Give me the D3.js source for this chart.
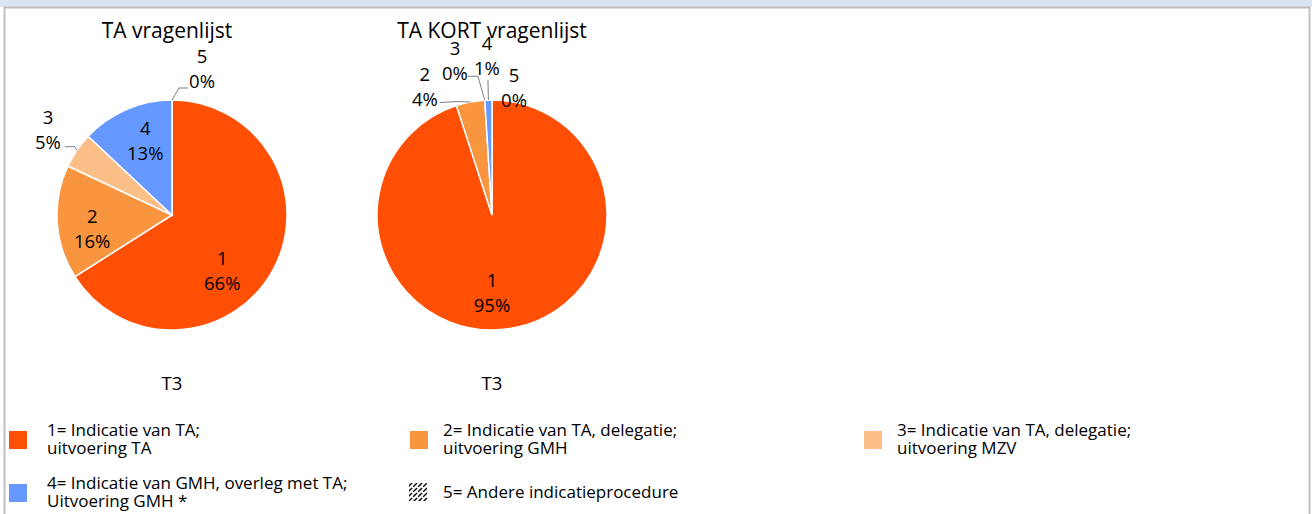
<!DOCTYPE html>
<html>
<head>
<meta charset="utf-8">
<script src="https://cdn.jsdelivr.net/npm/d3@7/dist/d3.min.js"></script>
<style>
  html, body { margin: 0; padding: 0; background: #ffffff; }
  svg { display: block; }
  text { font-family: "Open Sans", "Liberation Sans", sans-serif; fill: #000; }
</style>
</head>
<body>
<svg id="chart" width="1312" height="514"></svg>
<script>
// Categories (indication procedure codes) and the share per questionnaire
const categories = ["1", "2", "3", "4", "5"];
const taValues = [66, 16, 5, 13, 0];        // TA vragenlijst
const taKortValues = [95, 4, 0, 1, 0];      // TA KORT vragenlijst
const pieTitles = ["TA vragenlijst", "TA KORT vragenlijst"];
const pieCaptions = ["T3", "T3"];
const legendLabels = [
  ["1= Indicatie van TA;", "uitvoering TA"],
  ["2= Indicatie van TA, delegatie;", "uitvoering GMH"],
  ["3= Indicatie van TA, delegatie;", "uitvoering MZV"],
  ["4= Indicatie van GMH, overleg met TA;", "Uitvoering GMH *"],
  ["5= Andere indicatieprocedure"]
];

const colors = ["#ff4f04", "#f9953f", "#fdbf88", "#6699ff", "url(#hatch)"];

const svg = d3.select("#chart");

// Hatch used for "andere indicatieprocedure"
const defs = svg.append("defs");
const pat = defs.append("pattern")
  .attr("id", "hatch").attr("patternUnits", "userSpaceOnUse")
  .attr("width", 5).attr("height", 5);
pat.append("rect").attr("width", 5).attr("height", 5).attr("fill", "#fff");
pat.append("path").attr("d", "M-1,1 L1,-1 M0,5 L5,0 M4,6 L6,4")
  .attr("stroke", "#000").attr("stroke-width", 1.4)
  .attr("stroke-dasharray", "3,1.5");

// Frame: header band and side borders
svg.append("rect").attr("x", 0).attr("y", 0).attr("width", 1312).attr("height", 7)
  .attr("fill", "#dbe5f1");
svg.append("line").attr("x1", 4).attr("x2", 1310).attr("y1", 7.5).attr("y2", 7.5)
  .attr("stroke", "#bfbfbf").attr("stroke-width", 2);
svg.append("line").attr("x1", 4.5).attr("x2", 4.5).attr("y1", 7).attr("y2", 514)
  .attr("stroke", "#bfbfbf").attr("stroke-width", 2);
svg.append("line").attr("x1", 1309.5).attr("x2", 1309.5).attr("y1", 7).attr("y2", 514)
  .attr("stroke", "#bfbfbf").attr("stroke-width", 2);

const radius = 115;
const pieLayout = d3.pie().sort(null).value(d => d.value);
const arc = d3.arc().innerRadius(0).outerRadius(radius);

// Label placement per slice: radius of the anchor, offset, optional leader
// (leader = [start, elbow] relative to the label centre; it ends on the rim)
const placements = [
  [
    { r: 71, dx: -12, dy: 21 },
    { r: 80, dx: 0, dy: 8 },
    { r: 150, dx: 0, dy: -2, leader: [[17, 18], [27, 18]] },
    { r: 80, dx: 5, dy: -2 },
    { r: 147, dx: 30, dy: 0, leader: [[-14, 20], [-23, 20]] }
  ],
  [
    { r: 70, dx: -11, dy: 8 },
    { r: 145, dx: -40, dy: 13, leader: [[15, 17], [32, 16]] },
    { r: 160, dx: -27, dy: 5, leader: [[13, 16], [23, 16]] },
    { r: 160, dx: 0, dy: 0, leader: [[1, 25], [1, 25]] },
    { r: 128, dx: 22, dy: 0 }
  ]
];
const titleOffsets = [-5, 0];

const centersX = d3.scalePoint().domain([0, 1]).range([172, 492]);
const centerY = 215;

[taValues, taKortValues].forEach((values, pi) => {
  const data = categories.map((c, i) => ({ cat: c, value: values[i], idx: i }));
  const arcs = pieLayout(data);
  const g = svg.append("g")
    .attr("transform", `translate(${centersX(pi)},${centerY})`);

  g.append("text").attr("x", titleOffsets[pi]).attr("y", -185)
    .attr("text-anchor", "middle").attr("dominant-baseline", "central")
    .style("font-size", "21px").text(pieTitles[pi]);

  g.append("text").attr("x", 0).attr("y", 167)
    .attr("text-anchor", "middle").attr("dominant-baseline", "central")
    .style("font-size", "18.5px").text(pieCaptions[pi]);

  g.selectAll("path.slice").data(arcs.filter(a => a.data.value > 0)).join("path")
    .attr("class", "slice")
    .attr("d", arc)
    .attr("fill", d => colors[d.data.idx])
    .attr("stroke", "#fff").attr("stroke-width", 1.5);

  arcs.forEach(a => {
    const p = placements[pi][a.data.idx];
    const mid = (a.startAngle + a.endAngle) / 2;
    const lx = p.r * Math.sin(mid) + p.dx;
    const ly = -p.r * Math.cos(mid) + p.dy;
    if (p.leader) {
      const rim = [radius * Math.sin(mid), -radius * Math.cos(mid)];
      const pts = [
        [lx + p.leader[0][0], ly + p.leader[0][1]],
        [lx + p.leader[1][0], ly + p.leader[1][1]],
        rim
      ];
      g.append("path").attr("d", d3.line()(pts))
        .attr("fill", "none").attr("stroke", "#7f7f7f").attr("stroke-width", 1);
    }
    const t = g.append("text").attr("text-anchor", "middle")
      .style("font-size", "18.5px");
    t.append("tspan").attr("x", lx).attr("y", ly - 12.5)
      .attr("dominant-baseline", "central").text(a.data.cat);
    t.append("tspan").attr("x", lx).attr("y", ly + 12.5)
      .attr("dominant-baseline", "central").text(a.data.value + "%");
  });
});

// Legend
const legendCols = [9, 410, 864, 9, 409];
const legendTextCols = [47, 443, 897, 47, 443];
const legendRows = [440, 440, 440, 493, 492];
const lg = svg.append("g");
legendLabels.forEach((lines, i) => {
  const x = legendCols[i], y = legendRows[i];
  lg.append("rect").attr("x", x).attr("y", y - 9).attr("width", 18).attr("height", 18)
    .attr("fill", colors[i]);
  const t = lg.append("text").style("font-size", "17px");
  const offs = lines.length === 1 ? [-1] : [-11, 7];
  lines.forEach((ln, k) => {
    t.append("tspan").attr("x", legendTextCols[i]).attr("y", y + offs[k])
      .attr("dominant-baseline", "central").text(ln);
  });
});
</script>
</body>
</html>
